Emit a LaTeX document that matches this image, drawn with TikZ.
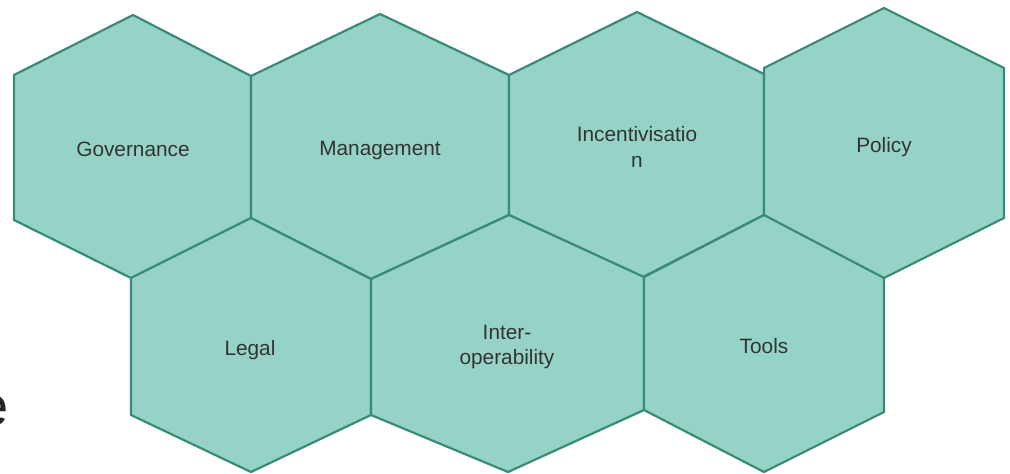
\documentclass[tikz,border=0pt]{standalone}
\usepackage{fontspec}
\setmainfont{Liberation Sans}
\definecolor{hexfill}{HTML}{96D3C7}
\definecolor{hexline}{HTML}{3A8A78}
\definecolor{txt}{HTML}{333333}
\begin{document}
\begin{tikzpicture}[x=1pt,y=-1pt,
  hex/.style={fill=hexfill,draw=hexline,line width=2.2pt,line join=miter},
  lbl/.style={font=\fontsize{20.8}{25.5}\selectfont,text=txt,align=center,inner sep=0pt}]
\useasboundingbox (0,0) rectangle (1010,474);
% row 1
\draw[hex] (133,15) -- (251,76) -- (251,218) -- (131,278) -- (14,220) -- (14,75) -- cycle;
\draw[hex] (380,14) -- (509,75) -- (509,215) -- (371,279) -- (251,218) -- (251,76) -- cycle;
\draw[hex] (637,12) -- (764,74) -- (764,215) -- (643,277) -- (509,215) -- (509,75) -- cycle;
\draw[hex] (884,8) -- (1004,68) -- (1004,218) -- (884,278) -- (764,218) -- (764,68) -- cycle;
% row 2
\draw[hex] (251,218) -- (371,279) -- (371,415) -- (251,472) -- (131,415) -- (131,278) -- cycle;
\draw[hex] (509,215) -- (644,277) -- (644,410) -- (508,472) -- (371,415) -- (371,279) -- cycle;
\draw[hex] (764,215) -- (884,278) -- (884,412) -- (764,472) -- (644,410) -- (644,277) -- cycle;
% labels
\node[lbl,anchor=base] (gov) at (133,156) {Governance};
\node[lbl,anchor=base] (man) at (380,155.7) {Management};
\node[lbl] (inc) at (637,147) {Incentivisatio\\n};
\node[lbl,anchor=base] (pol) at (884,152) {Policy};
\node[lbl,anchor=base] (leg) at (250,355) {Legal};
\node[lbl] (int) at (507,347) {Inter-\\operability};
\node[lbl,anchor=base] (too) at (764,353) {Tools};
\node[font=\fontsize{56}{60}\selectfont,text=black!85,anchor=base east,inner sep=0pt] (e) at (9,425) {e};
\end{tikzpicture}
\end{document}
